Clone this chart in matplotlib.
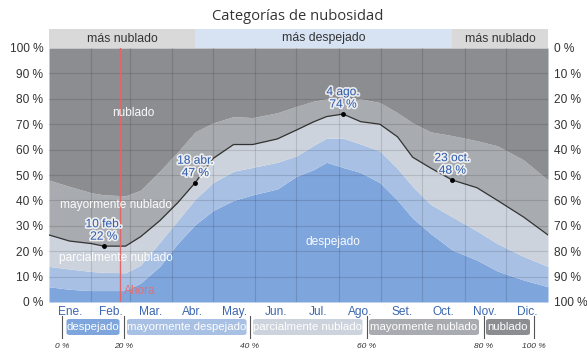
import numpy as np
import matplotlib.pyplot as plt
import matplotlib.patheffects as pe
from matplotlib.patches import FancyBboxPatch

plt.rcParams['font.family'] = ['Liberation Sans', 'DejaVu Sans']

# day of year (0 = 1 Jan) and cumulative cloud-cover bands in %
days = [0, 15, 31, 40, 56, 67, 81, 94, 107, 120, 135, 149, 167, 181, 193,
        203, 215, 228, 242, 255, 266, 279, 295, 313, 328, 347, 365]
despejado = [6, 5, 4.5, 4.5, 4.5, 7.5, 14, 23, 30.5, 36, 40, 42.2, 44.5, 49.5, 52,
             55, 53, 51, 47, 40, 33, 27, 20.5, 16.5, 12.2, 8.7, 6]
may_despejado = [14, 13, 12, 11.7, 11.5, 14.5, 23.5, 32, 40.5, 47, 51.5, 53, 55, 57.5, 61.5,
                 64.5, 64.5, 62.2, 59.5, 52.5, 45.5, 38.5, 33.5, 28, 23, 18, 14]
parc_nublado = [26.4, 24, 23, 22, 22, 25.7, 32, 39, 47, 56.5, 62, 62, 64.2, 67.7, 70.8,
                73, 74, 71, 70, 65, 57, 52.8, 48, 45, 40, 33.5, 26.4]
may_nublado = [48, 45.5, 43, 42.2, 41.8, 44, 51.5, 59, 67, 70.5, 73, 72.6, 74.5, 77, 79,
               80, 80.2, 80, 78.5, 74.5, 70.5, 67, 65.5, 63.5, 61.5, 56, 48]

month_starts = [0, 31, 59, 90, 120, 151, 181, 212, 243, 273, 304, 334, 365]
months = ['Ene.', 'Feb.', 'Mar.', 'Abr.', 'May.', 'Jun.', 'Jul.', 'Ago.',
          'Set.', 'Oct.', 'Nov.', 'Dic.']

# highlighted days on the black line
marks = [(40, 22, '10 feb.'), (107, 47, '18 abr.'), (215, 74, '4 ago.'), (295, 48, '23 oct.')]
ahora_day = 52

band_labels = ['despejado', 'mayormente despejado', 'parcialmente nublado',
               'mayormente nublado', 'nublado']
colors = ['#7ea5dc', '#a8c0e3', '#cdd3dc', '#a8abaf', '#8b8d91']

W, H = 587, 354
fig = plt.figure(figsize=(W / 100, H / 100), dpi=100)
x0, x1, y0, y1 = 49, 548, 48, 302
ax = fig.add_axes([x0 / W, 1 - y1 / H, (x1 - x0) / W, (y1 - y0) / H])

layers = [np.zeros(len(days)), despejado, may_despejado, parc_nublado, may_nublado,
          np.full(len(days), 100.0)]
for i in range(5):
    ax.fill_between(days, layers[i], layers[i + 1], color=colors[i], lw=0)
ax.plot(days, parc_nublado, color='#333333', lw=0.9)

for m in month_starts[1:-1]:
    ax.axvline(m, color='black', alpha=0.12, lw=0.8)
for p in range(10, 100, 10):
    ax.axhline(p, color='black', alpha=0.12, lw=0.8)

ax.set_xlim(0, 365)
ax.set_ylim(0, 100)
for s in ax.spines.values():
    s.set_visible(False)

centers = [(a + b) / 2 for a, b in zip(month_starts[:-1], month_starts[1:])]
ax.set_xticks(centers)
ax.set_xticklabels(months, color='#3a66b0', fontsize=8.6)
ax.set_yticks(range(0, 101, 10))
ax.set_yticklabels([f'{p} %' for p in range(0, 101, 10)], color='#333333', fontsize=8.6)
ax.tick_params(length=0, pad=4)
ax.tick_params(axis='x', pad=3)

axr = ax.twinx()
axr.set_ylim(0, 100)
axr.set_yticks(range(0, 101, 10))
axr.set_yticklabels([f'{100 - p} %' for p in range(0, 101, 10)], color='#333333', fontsize=8.6)
axr.tick_params(length=0, pad=4)
for s in axr.spines.values():
    s.set_visible(False)

# "now" marker
ax.axvline(ahora_day, color='#e0666a', lw=1)
ax.text(ahora_day + 3, 4.3, 'Ahora', color='#e07078', fontsize=8.6, va='center', zorder=5)

# band names
white = dict(color='white', fontsize=8.6, ha='center', va='center', alpha=0.95)
ax.text(62, 74.4, 'nublado', **white)
ax.text(49, 38.2, 'mayormente nublado', **white)
ax.text(49, 17.3, 'parcialmente nublado', **white)
ax.text(208, 23.6, 'despejado', **white)

halo = [pe.withStroke(linewidth=2.5, foreground='white', alpha=0.8)]
for d, v, lab in marks:
    ax.plot(d, v, 'o', color='black', ms=2.5)
    ax.annotate(f'{lab}\n{v} %', (d, v), xytext=(0, 2.5), textcoords='offset points',
                ha='center', va='bottom', color='#2f5bab', fontsize=8.6,
                linespacing=1.05, path_effects=halo)

# top strip: cloudier / clearer part of the year
axt = fig.add_axes([x0 / W, 1 - y0 / H, (x1 - x0) / W, 19 / H])
axt.set_xlim(0, 365)
axt.set_ylim(0, 1)
axt.axis('off')
split_a, split_b = marks[1][0], marks[3][0]
axt.axvspan(0, split_a, color='#d9d9d9', lw=0)
axt.axvspan(split_a, split_b, color='#d7e3f3', lw=0)
axt.axvspan(split_b, 365, color='#d9d9d9', lw=0)
strip = dict(ha='center', va='center', fontsize=8.8, color='#333333')
axt.text(split_a / 2, 0.5, 'más nublado', **strip)
axt.text((split_a + split_b) / 2, 0.5, 'más despejado', **strip)
axt.text((split_b + 365) / 2, 0.5, 'más nublado', **strip)

fig.text(298 / W, 1 - 16 / H, 'Categorías de nubosidad', ha='center', va='center',
         fontsize=10.6, color='#333333', family=['Open Sans', 'DejaVu Sans'])

# legend row
seps = [62, 124, 250, 367, 484, 534]
sep_labels = ['0 %', '20 %', '40 %', '60 %', '80 %', '100 %']
boxes = [(66.5, 119.5), (127, 246.5), (253, 362.5), (369, 479), (486, 530)]
by0, by1 = 319, 335
for (a, b), lab, c in zip(boxes, band_labels, colors):
    fig.patches.append(FancyBboxPatch((a / W, 1 - by1 / H), (b - a) / W, (by1 - by0) / H,
                                      boxstyle='round,pad=0,rounding_size=0.006',
                                      transform=fig.transFigure, fc=c, ec='none'))
    fig.text((a + b) / 2 / W, 1 - 327 / H, lab, ha='center', va='center',
             color='white', fontsize=8.2)
for sx, lab in zip(seps, sep_labels):
    fig.add_artist(plt.Line2D([sx / W, sx / W], [1 - 338 / H, 1 - 316 / H],
                              transform=fig.transFigure, color='#555555', lw=0.8))
    fig.text(sx / W, 1 - 346 / H, lab, ha='center', va='center', fontsize=6,
             style='italic', color='#333333')

fig.savefig('out.png', dpi=100)
